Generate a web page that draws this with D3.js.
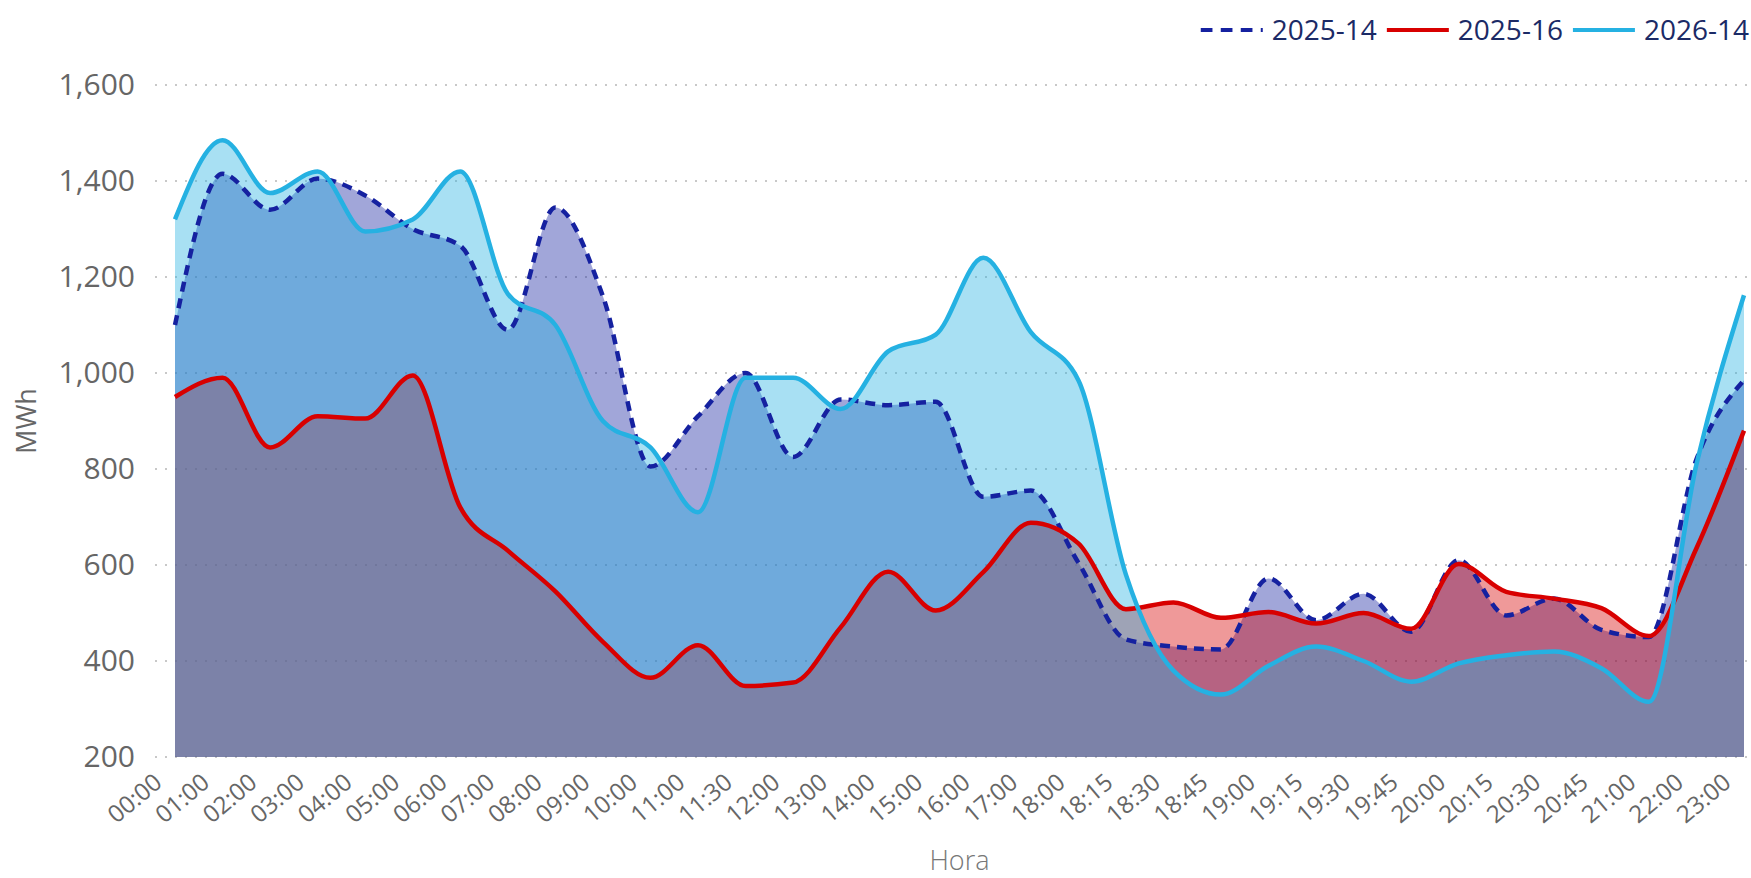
<!DOCTYPE html>
<html>
<head>
<meta charset="utf-8">
<script src="https://cdn.jsdelivr.net/npm/d3@7"></script>
<style>
  body { margin: 0; background: #fff; }
  svg text { font-family: "Segoe UI", "Open Sans", sans-serif; }
</style>
</head>
<body>
<svg id="vis"></svg>
<script>
const WIDTH = 1751;
const HEIGHT = 878;

// horas (categorias del eje x)
const horas = ["00:00","01:00","02:00","03:00","04:00","05:00","06:00","07:00","08:00","09:00",
  "10:00","11:00","11:30","12:00","13:00","14:00","15:00","16:00","17:00","18:00",
  "18:15","18:30","18:45","19:00","19:15","19:30","19:45","20:00","20:15","20:30",
  "20:45","21:00","22:00","23:00"];

// valores (MWh)
const serie2025_14 = [1100,1415,1340,1405,1370,1300,1265,1090,1345,1160,
  805,910,1000,825,945,933,940,742,755,605,
  445,430,424,572,485,540,461,610,495,530,
  465,450,820,985];
const serie2025_16 = [950,990,845,910,905,995,720,630,545,440,
  365,433,348,355,470,586,505,585,688,645,
  508,522,490,502,478,500,467,602,544,530,
  510,452,635,880];
const serie2026_14 = [1320,1485,1375,1420,1295,1320,1420,1165,1100,900,
  845,710,990,990,925,1045,1080,1240,1085,985,
  580,380,330,390,430,400,357,395,412,420,
  385,315,810,1162];

const nombres = ["2025-14","2025-16","2026-14"];
const colores = ["#1521A0","#D80000","#25B1E2"];
const guiones = ["10,7", null, null];
const guionesLeyenda = ["11.7,8.3", null, null];
const yTicks = [200,400,600,800,1000,1200,1400,1600];

const series = [serie2025_14, serie2025_16, serie2026_14];

const svg = d3.select("#vis")
    .attr("width", WIDTH)
    .attr("height", HEIGHT);

const escalaX = d3.scalePoint()
    .domain(horas)
    .range([175, 1744]);

const escalaY = d3.scaleLinear()
    .domain([200, 1600])
    .range([757, 85]);

// lineas de la grilla (punteadas)
svg.append("g")
    .selectAll("line")
    .data(yTicks)
    .join("line")
    .attr("x1", 155)
    .attr("x2", WIDTH)
    .attr("y1", d => escalaY(d))
    .attr("y2", d => escalaY(d))
    .attr("stroke", "#c8c8c8")
    .attr("stroke-width", 2)
    .attr("stroke-dasharray", "2,8");

// eje Y
const ejeY = svg.append("g")
    .attr("transform", "translate(155,0)")
    .call(d3.axisLeft(escalaY).tickValues(yTicks).tickFormat(d3.format(",")).tickSize(0).tickPadding(20));
ejeY.select(".domain").remove();
ejeY.selectAll("text")
    .attr("font-size", 30)
    .attr("fill", "#666")
    .attr("font-family", "'Segoe UI', 'Open Sans', sans-serif");

// eje X
const ejeX = svg.append("g")
    .attr("transform", `translate(0,${escalaY(200)})`)
    .call(d3.axisBottom(escalaX).tickSize(0));
ejeX.select(".domain").remove();
ejeX.selectAll("text")
    .attr("x", 0)
    .attr("y", 0)
    .attr("dy", 0)
    .attr("text-anchor", "end")
    .attr("transform", "translate(-12,28) rotate(-40)")
    .attr("font-size", 24)
    .attr("fill", "#666")
    .attr("font-family", "'Segoe UI', 'Open Sans', sans-serif");

// areas (orden: 2025-14, 2025-16, 2026-14)
const area = d3.area()
    .x((d, i) => escalaX(horas[i]))
    .y0(escalaY(200))
    .y1(d => escalaY(d))
    .curve(d3.curveMonotoneX);

const linea = d3.line()
    .x((d, i) => escalaX(horas[i]))
    .y(d => escalaY(d))
    .curve(d3.curveMonotoneX);

svg.append("g")
    .selectAll("path")
    .data(series)
    .join("path")
    .attr("d", area)
    .attr("fill", (d, i) => colores[i])
    .attr("fill-opacity", 0.4);

svg.append("g")
    .selectAll("path")
    .data(series)
    .join("path")
    .attr("d", linea)
    .attr("fill", "none")
    .attr("stroke", (d, i) => colores[i])
    .attr("stroke-width", 4.5)
    .attr("stroke-dasharray", (d, i) => guiones[i]);

// titulos de ejes
svg.append("text")
    .attr("transform", "translate(36,421) rotate(-90)")
    .attr("text-anchor", "middle")
    .attr("font-size", 27)
    .attr("fill", "#666")
    .text("MWh");

svg.append("text")
    .attr("x", (175 + 1744) / 2)
    .attr("y", 870)
    .attr("text-anchor", "middle")
    .attr("font-size", 27)
    .attr("font-weight", 300)
    .attr("fill", "#777")
    .text("Hora");

// leyenda (alineada a la derecha)
const leyenda = svg.append("g");
const items = leyenda.selectAll("g")
    .data(nombres)
    .join("g");
items.append("line")
    .attr("x1", 0)
    .attr("x2", 62)
    .attr("y1", 30)
    .attr("y2", 30)
    .attr("stroke", (d, i) => colores[i])
    .attr("stroke-width", 4)
    .attr("stroke-dasharray", (d, i) => guionesLeyenda[i]);
items.append("text")
    .attr("x", 71)
    .attr("y", 40)
    .attr("font-size", 28)
    .attr("fill", "#1B2A66")
    .text(d => d);

let anchos = [];
items.each(function () {
    anchos.push(71 + d3.select(this).select("text").node().getComputedTextLength());
});
const total = d3.sum(anchos) + 10 * (anchos.length - 1);
let xActual = 1749 - total;
items.attr("transform", (d, i) => {
    const t = `translate(${xActual},0)`;
    xActual += anchos[i] + 10;
    return t;
});
</script>
</body>
</html>
